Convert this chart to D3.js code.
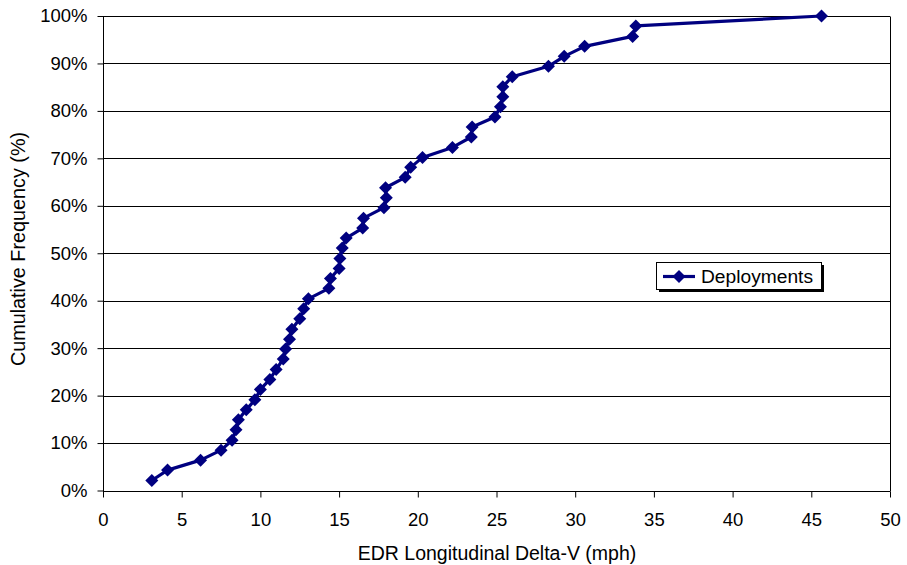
<!DOCTYPE html>
<html>
<head>
<meta charset="utf-8">
<script src="https://cdn.jsdelivr.net/npm/d3@7"></script>
<style>
body { margin: 0; background: #fff; }
svg { display: block; font-family: "Liberation Sans", Arial, sans-serif; }
</style>
</head>
<body>
<svg id="chart" width="907" height="565"></svg>
<script>
// Data
const deltaV = [3.1, 4.1, 6.2, 7.5, 8.2, 8.45, 8.6, 9.1, 9.65, 10.0, 10.6, 11.0, 11.45, 11.6, 11.85, 12.0,
  12.5, 12.75, 13.05, 14.35, 14.45, 15.0, 15.05, 15.2, 15.45, 16.5, 16.55, 17.85, 18.0, 17.95,
  19.2, 19.55, 20.3, 22.2, 23.4, 23.45, 24.9, 25.25, 25.4, 25.4, 26.0, 28.3, 29.3, 30.6,
  33.65, 33.85, 45.65];
const cumFreq = [2.1, 4.3, 6.4, 8.5, 10.6, 12.8, 14.9, 17.0, 19.1, 21.3, 23.4, 25.5, 27.7, 29.8, 31.9, 34.0,
  36.2, 38.3, 40.4, 42.6, 44.7, 46.8, 48.9, 51.1, 53.2, 55.3, 57.4, 59.6, 61.7, 63.8,
  66.0, 68.1, 70.2, 72.3, 74.5, 76.6, 78.7, 80.9, 83.0, 85.1, 87.2, 89.4, 91.5, 93.6,
  95.7, 97.9, 100.0];
const xTicks = [0, 5, 10, 15, 20, 25, 30, 35, 40, 45, 50];
const yTicks = [0, 10, 20, 30, 40, 50, 60, 70, 80, 90, 100];
const seriesName = "Deployments";
const xTitle = "EDR Longitudinal Delta-V (mph)";
const yTitle = "Cumulative Frequency (%)";

(function () {
const svg = d3.select("#chart");
const pl = 103, pr = 890, pt = 16, pb = 490.5;
const color = "#000080";
const font = "'Liberation Sans', Arial, sans-serif";

const x = d3.scaleLinear().domain([0, 50]).range([pl, pr]);
const y = d3.scaleLinear().domain([0, 100]).range([pb, pt]);

// gridlines
svg.append("g").selectAll("line").data(yTicks.filter(d => d > 0)).join("line")
  .attr("x1", pl).attr("x2", pr)
  .attr("y1", d => Math.round(y(d)) + 0.5).attr("y2", d => Math.round(y(d)) + 0.5)
  .attr("stroke", "#000").attr("stroke-width", 1);

// right border
svg.append("line").attr("x1", pr + 0.5).attr("x2", pr + 0.5)
  .attr("y1", Math.round(y(100)) + 0.5).attr("y2", Math.round(y(0)) + 0.5)
  .attr("stroke", "#000");

// axes
const yAxis = d3.axisLeft(y).tickValues(yTicks).tickFormat(d => d + "%").tickSize(6).tickPadding(10);
const yg = svg.append("g").attr("transform", `translate(${pl + 0.5},0)`).call(yAxis);
const xAxis = d3.axisBottom(x).tickValues(xTicks).tickFormat(d3.format("d")).tickSize(6).tickPadding(15);
const xg = svg.append("g").attr("transform", `translate(0,${Math.round(y(0)) + 0.5})`).call(xAxis);
[yg, xg].forEach(g => {
  g.select(".domain").attr("stroke", "#000").attr("stroke-width", 1);
  g.selectAll(".tick line").attr("stroke", "#000");
  g.selectAll("text").attr("font-size", 18.5).attr("fill", "#000").attr("font-family", font);
});
yg.select(".domain").attr("d", `M0,${Math.round(y(0))}V${Math.round(y(100))}`);
xg.select(".domain").attr("d", `M${pl},0H${pr}`);

// titles
svg.append("text").attr("x", 497).attr("y", 560)
  .attr("text-anchor", "middle").attr("font-size", 19.5).attr("font-family", font).text(xTitle);
svg.append("text").attr("transform", `translate(25,${249}) rotate(-90)`)
  .attr("text-anchor", "middle").attr("font-size", 19.8).attr("font-family", font).text(yTitle);

// series
const pts = deltaV.map((v, i) => [v, cumFreq[i]]);
svg.append("path").datum(pts)
  .attr("d", d3.line().x(d => x(d[0])).y(d => y(d[1])))
  .attr("fill", "none").attr("stroke", color).attr("stroke-width", 3.2).attr("stroke-linejoin", "round");

const diamond = (cx, cy, r) => `M${cx},${cy - r}L${cx + r},${cy}L${cx},${cy + r}L${cx - r},${cy}Z`;
svg.append("g").selectAll("path").data(pts).join("path")
  .attr("d", d => diamond(x(d[0]), y(d[1]), 6.5))
  .attr("fill", color);

// legend
const lg = svg.append("g");
const lx = 656, ly = 262, lw = 165, lh = 27;
lg.append("rect").attr("x", lx + 3).attr("y", ly + 3).attr("width", lw).attr("height", lh).attr("fill", "#000");
lg.append("rect").attr("x", lx + 0.5).attr("y", ly + 0.5).attr("width", lw).attr("height", lh)
  .attr("fill", "#fff").attr("stroke", "#000");
lg.append("line").attr("x1", lx + 7).attr("x2", lx + 39).attr("y1", ly + lh / 2 + 1).attr("y2", ly + lh / 2 + 1)
  .attr("stroke", color).attr("stroke-width", 3.2);
lg.append("path").attr("d", diamond(lx + 23, ly + lh / 2 + 1, 6.5)).attr("fill", color);
lg.append("text").attr("x", lx + 45).attr("y", ly + lh / 2 + 7.5).attr("font-size", 19.2)
  .attr("font-family", font).text(seriesName);
})();
</script>
</body>
</html>
